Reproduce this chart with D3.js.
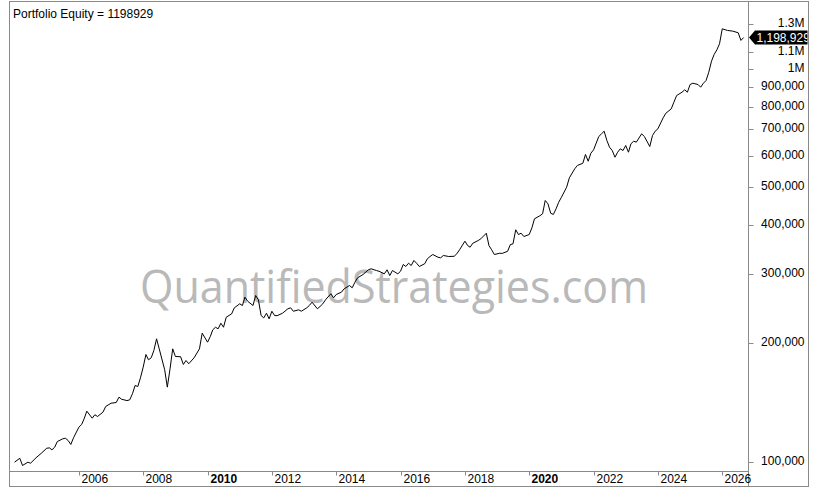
<!DOCTYPE html>
<html lang="en">
<head>
	<title>Portfolio Equity</title>
	<script src="https://d3js.org/d3.v7.min.js" charset="utf-8"></script>
	<meta charset="utf-8">
	<style>
	body { margin: 0; background: #fff; }
	svg { font-family: "Liberation Sans", Arial, sans-serif; }
	.equity { fill: none; stroke: #000; stroke-width: 1; }
	.frame { fill: none; stroke: #8a8a8a; }
	</style>
</head>
<body>
	<script>
	// monthly equity readings
	var months = [
		"2004-01","2004-03","2004-04","2004-06","2004-07","2004-09","2004-11",
		"2005-01","2005-02","2005-03","2005-04","2005-05","2005-07","2005-08","2005-09","2005-10","2005-11",
		"2006-01","2006-02","2006-03","2006-04","2006-06","2006-07","2006-08","2006-10","2006-11",
		"2007-01","2007-03","2007-04","2007-05","2007-07","2007-08","2007-09","2007-10","2007-11","2007-12",
		"2008-01","2008-02","2008-03","2008-04","2008-05","2008-06","2008-07","2008-09","2008-10","2008-11","2008-12",
		"2009-01","2009-03","2009-04","2009-05","2009-06","2009-08","2009-10","2009-11",
		"2010-01","2010-02","2010-03","2010-04","2010-05","2010-06","2010-07","2010-08","2010-10","2010-11",
		"2011-01","2011-02","2011-03","2011-04","2011-06","2011-07","2011-08","2011-09","2011-10","2011-11","2011-12",
		"2012-01","2012-02","2012-03","2012-05","2012-07","2012-08","2012-09","2012-11","2012-12",
		"2013-02","2013-03","2013-04","2013-06","2013-07","2013-08","2013-09","2013-11","2013-12",
		"2014-01","2014-03","2014-04","2014-06","2014-07","2014-08","2014-09","2014-11",
		"2015-01","2015-02","2015-04","2015-05","2015-07","2015-08","2015-09","2015-10","2015-12",
		"2016-01","2016-02","2016-03","2016-04","2016-05","2016-06","2016-07","2016-08","2016-10","2016-11","2016-12",
		"2017-01","2017-03","2017-04","2017-05","2017-07","2017-09","2017-10","2017-11",
		"2018-01","2018-02","2018-03","2018-04","2018-06","2018-07","2018-09","2018-10","2018-11","2018-12",
		"2019-02","2019-03","2019-05","2019-06","2019-07","2019-08","2019-09","2019-10","2019-11",
		"2020-01","2020-02","2020-03","2020-05","2020-06","2020-07","2020-08","2020-09","2020-10","2020-11","2020-12",
		"2021-01","2021-03","2021-04","2021-06","2021-07","2021-09","2021-10","2021-11","2021-12",
		"2022-01","2022-03","2022-04","2022-05","2022-06","2022-07","2022-08","2022-09","2022-10","2022-11","2022-12",
		"2023-01","2023-02","2023-03","2023-04","2023-05","2023-07","2023-08","2023-10","2023-11","2023-12",
		"2024-01","2024-03","2024-04","2024-06","2024-07","2024-08","2024-10","2024-11","2024-12",
		"2025-01","2025-02","2025-04","2025-05","2025-06","2025-07","2025-08","2025-09","2025-10","2025-11","2025-12",
		"2026-01","2026-03","2026-05","2026-07","2026-08","2026-09"
	];

	var equity = [
		99600,101900,97700,99600,99000,102200,105000,
		108100,108300,107100,108700,112400,114200,114600,113100,110500,114900,
		122300,124200,128400,134300,128900,131500,130200,133500,138000,
		140700,141300,145800,144000,142900,143500,148700,156100,155200,163300,
		173800,187200,181500,183600,191600,205200,193500,171200,154600,172200,193500,
		185000,184800,176600,180700,177300,183600,193500,212100,
		201200,208000,216300,219600,217600,224800,219600,232900,237500,246100,
		251900,249400,261900,255800,249400,264500,257900,235200,232000,238400,230700,
		241200,235200,235000,238400,244700,246100,241200,243200,241200,
		246100,249400,254300,244700,248000,251900,257900,267200,260900,
		266100,269700,275100,280400,276700,285900,293400,299100,
		307500,309300,306200,304900,300300,307500,297300,306200,300300,
		304900,317200,313500,319600,315300,324700,319600,313500,318500,328000,332400,
		336300,331000,329900,334400,332400,332800,337700,345700,
		363600,354400,351000,359300,365000,368700,381000,354400,345700,336300,
		338800,338500,342800,356500,358000,388700,378000,381000,373700,
		378000,393300,414600,422000,426900,461500,452600,428400,425200,439500,456800,
		470400,498900,527100,555700,566600,574100,604200,580900,608800,
		621000,671400,682100,692600,655900,630600,618400,594700,612400,624800,618400,
		637000,612400,643300,653100,649400,682100,671400,633200,675300,692600,
		702400,749100,769600,789700,820900,853700,870400,882800,870400,
		910600,917500,910600,896300,917500,932200,978600,1044000,1086000,1116000,1156000,
		1262000,1250000,1245000,1233000,1179000,1198929
	];

	var yearTicks = [2006, 2008, 2010, 2012, 2014, 2016, 2018, 2020, 2022, 2024, 2026];
	var boldYears = [2010, 2020];
	var valueTicks = [100000, 200000, 300000, 400000, 500000, 600000, 700000, 800000, 900000, 1000000, 1100000, 1300000];
	var title = "Portfolio Equity = 1198929";
	var watermark = "QuantifiedStrategies.com";

	var width = 820;
	var height = 500;
	var plotL = 9.5, plotR = 748.5, plotT = 1.5, plotB = 471.5;
	var outerR = 808.5, outerB = 486.5;

	var parse = d3.timeParse("%Y-%m");
	var data = months.map(function(m, i) { return { date: parse(m), value: equity[i] }; });

	var svg = d3.select('body')
	.append('svg')
	.attr('width', width)
	.attr('height', height);

	var x = d3.scaleTime()
	.domain([new Date(2003, 10, 5), new Date(2026, 9, 26)])
	.range([plotL, plotR]);

	var y = d3.scaleLog()
	.domain([94310, 1481000])
	.range([plotB, plotT]);

	var defs = svg.append('defs');
	defs.append('clipPath').attr('id', 'plot')
	.append('rect')
	.attr('x', plotL).attr('y', plotT)
	.attr('width', plotR - plotL).attr('height', plotB - plotT);

	defs.append('clipPath').attr('id', 'tagclip')
	.append('rect')
	.attr('x', plotR).attr('y', plotT)
	.attr('width', outerR - plotR - 1).attr('height', plotB - plotT);

	// watermark sits behind the line
	svg.append('text')
	.attr('x', 140)
	.attr('y', 303)
	.attr('textLength', 508)
	.attr('lengthAdjust', 'spacingAndGlyphs')
	.style('font-family', '"Open Sans", "Noto Sans", sans-serif')
	.style('font-size', '46px')
	.attr('fill', '#b9b9b9')
	.text(watermark);

	svg.append('rect')
	.attr('class', 'frame')
	.attr('x', plotL).attr('y', plotT)
	.attr('width', outerR - plotL).attr('height', outerB - plotT);

	svg.append('line').attr('class', 'frame')
	.attr('x1', plotR).attr('x2', plotR).attr('y1', plotT).attr('y2', outerB);
	svg.append('line').attr('class', 'frame')
	.attr('x1', plotL).attr('x2', plotR).attr('y1', plotB).attr('y2', plotB);

	// x axis
	var xt = svg.append('g').selectAll('g')
	.data(yearTicks)
	.enter().append('g')
	.attr('transform', function(d) { return 'translate(' + (Math.round(x(new Date(d, 0, 1))) + 0.5) + ',0)'; });
	xt.append('line')
	.attr('y1', plotB).attr('y2', plotB + 4)
	.attr('stroke', '#8a8a8a');
	xt.append('text')
	.attr('x', 2)
	.attr('y', 483)
	.style('font-size', '12px')
	.style('font-weight', function(d) { return boldYears.indexOf(d) >= 0 ? 'bold' : 'normal'; })
	.text(function(d) { return d; });

	// y axis
	var fmt = function(v) { return v >= 1e6 ? d3.format('~')(v / 1e6) + 'M' : d3.format(',')(v); };
	var yt = svg.append('g').selectAll('g')
	.data(valueTicks)
	.enter().append('g')
	.attr('transform', function(d) { return 'translate(0,' + (Math.round(y(d)) + 0.5) + ')'; });
	yt.append('line')
	.attr('x1', plotR).attr('x2', plotR + 5)
	.attr('stroke', '#8a8a8a');
	yt.append('text')
	.attr('x', 804.5)
	.attr('dy', '0.22em')
	.attr('text-anchor', 'end')
	.style('font-size', '12px')
	.text(fmt);

	var line = d3.line()
	.x(function(d) { return x(d.date); })
	.y(function(d) { return y(d.value); });

	svg.append('path')
	.datum(data)
	.attr('class', 'equity')
	.attr('clip-path', 'url(#plot)')
	.attr('d', line);

	// last value tag
	var last = data[data.length - 1];
	var ly = y(last.value);
	var tag = svg.append('g').attr('clip-path', 'url(#tagclip)');
	tag.append('path')
	.attr('d', 'M' + (plotR + 0.5) + ',' + ly + 'L' + (plotR + 6.5) + ',' + (ly - 7) +
		'L' + outerR + ',' + (ly - 7) + 'L' + outerR + ',' + (ly + 7) + 'L' + (plotR + 6.5) + ',' + (ly + 7) + 'Z')
	.attr('fill', '#000');
	tag.append('text')
	.attr('x', plotR + 8)
	.attr('y', ly)
	.attr('dy', '0.36em')
	.attr('fill', '#fff')
	.style('font-size', '12px')
	.text(d3.format(',')(last.value));

	svg.append('text')
	.attr('x', 13)
	.attr('y', 18)
	.style('font-size', '12px')
	.text(title);
	</script>
</body>
</html>
